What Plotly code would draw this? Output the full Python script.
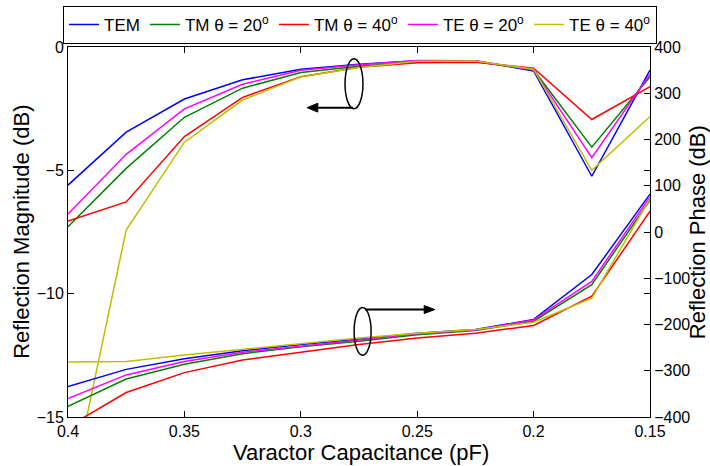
import plotly.graph_objects as go

# varactor capacitance (pF), plotted high -> low
cap = [0.4, 0.375, 0.35, 0.325, 0.3, 0.275, 0.25, 0.225, 0.2, 0.175, 0.15]

# reflection magnitude (dB), left axis
mag_tem = [-5.6, -3.45, -2.11, -1.33, -0.9, -0.70, -0.56, -0.56, -0.97, -5.24, -0.94]
mag_tm20 = [-7.29, -4.92, -2.85, -1.67, -1.03, -0.78, -0.60, -0.60, -0.92, -4.06, -1.21]
mag_tm40 = [-7.06, -6.28, -3.63, -2.04, -1.21, -0.82, -0.64, -0.62, -0.86, -2.94, -1.61]
mag_te20 = [-6.77, -4.35, -2.51, -1.51, -0.94, -0.72, -0.55, -0.56, -0.93, -4.49, -1.1]
mag_te40 = [-18.6, -7.42, -3.86, -2.15, -1.21, -0.83, -0.58, -0.57, -0.90, -5.0, -2.82]

# reflection phase, right axis
ph_tem = [-334, -297, -274, -257, -243, -232, -219, -211, -189, -92, 82]
ph_tm20 = [-377, -318, -286, -263, -248, -236, -222, -213, -193, -114, 69]
ph_tm40 = [-421, -347, -304, -277, -260, -243, -229, -219, -202, -139, 45]
ph_te20 = [-360, -309, -280, -260, -247, -234, -220, -212, -190, -107, 76]
ph_te40 = [-281, -280, -266, -254, -241, -229, -219, -211, -195, -143, 72]

names = ['TEM', 'TM θ = 20<sup>o</sup>', 'TM θ = 40<sup>o</sup>',
         'TE θ = 20<sup>o</sup>', 'TE θ = 40<sup>o</sup>']
colors = ['#0000FF', '#008000', '#FF0000', '#FF00FF', '#BFBF00']
mags = [mag_tem, mag_tm20, mag_tm40, mag_te20, mag_te40]
phases = [ph_tem, ph_tm20, ph_tm40, ph_te20, ph_te40]

fig = go.Figure()
for name, col, m in zip(names, colors, mags):
    fig.add_trace(go.Scatter(x=cap, y=m, name=name, mode='lines',
                             line=dict(color=col, width=1.5)))
for name, col, p in zip(names, colors, phases):
    fig.add_trace(go.Scatter(x=cap, y=p, name=name, mode='lines', yaxis='y2',
                             showlegend=False, line=dict(color=col, width=1.5)))

axis_font = dict(family='Arial, Liberation Sans', size=16, color='black')

fig.update_layout(
    width=710, height=466,
    margin=dict(l=68, r=60, t=47, b=49, autoexpand=False),
    paper_bgcolor='white', plot_bgcolor='white',
    font=dict(family='Arial, Liberation Sans', color='black', size=16),
    showlegend=True,
    # x just below 0 so the horizontal legend may use the left margin too
    legend=dict(orientation='h', x=-0.0086, xanchor='left', y=1.111, yanchor='top',
                bordercolor='black', borderwidth=1, bgcolor='white',
                font=dict(size=17), itemwidth=30, tracegroupgap=0),
    xaxis=dict(range=[0.4, 0.15], tickvals=[0.4, 0.35, 0.3, 0.25, 0.2, 0.15],
               ticktext=['0.4', '0.35', '0.3', '0.25', '0.2', '0.15'],
               ticks='inside', ticklen=6, tickcolor='black', showline=True,
               linecolor='black', linewidth=1, mirror='ticks', showgrid=False,
               zeroline=False, tickfont=axis_font),
    yaxis=dict(range=[-15, 0], tickvals=[-15, -10, -5, 0], ticks='inside', ticklen=6,
               tickcolor='black', showline=True, linecolor='black', linewidth=1,
               mirror='ticks', showgrid=False, zeroline=False, tickfont=axis_font),
    yaxis2=dict(range=[-400, 400], tickvals=[-400, -300, -200, -100, 0, 100, 200, 300, 400],
                overlaying='y', side='right', ticks='inside', ticklen=6, tickcolor='black',
                showline=True, linecolor='black', linewidth=1, showgrid=False,
                zeroline=False, tickfont=axis_font),
)

# axis titles as annotations so they sit where the original has them
title_font = dict(family='Arial, Liberation Sans', size=22, color='black')
fig.add_annotation(text='Varactor Capacitance (pF)', xref='paper', yref='paper',
                   x=0.503, y=-0.095, xanchor='center', yanchor='middle',
                   showarrow=False, font=title_font)
fig.add_annotation(text='Reflection Magnitude (dB)', xref='paper', yref='paper',
                   x=-0.081, y=0.5, xanchor='center', yanchor='middle', textangle=-90,
                   showarrow=False, font=title_font)
fig.add_annotation(text='Reflection Phase (dB)', xref='paper', yref='paper',
                   x=1.081, y=0.5, xanchor='center', yanchor='middle', textangle=-90,
                   showarrow=False, font=title_font)

pen = dict(color='black', width=1.5)

# ellipse + arrow marking the magnitude curves (left axis)
fig.add_shape(type='circle', xref='x', yref='y', x0=0.281, x1=0.2733, y0=-2.5, y1=-0.48, line=pen)
fig.add_shape(type='line', xref='x', yref='y', x0=0.2776, x1=0.2935, y0=-2.46, y1=-2.46,
              line=dict(color='black', width=2))
fig.add_shape(type='path', xref='x', yref='y',
              path='M 0.2973,-2.46 L 0.2927,-2.28 L 0.2927,-2.64 Z',
              fillcolor='black', line=dict(color='black', width=1))

# ellipse + arrow marking the phase curves (right axis)
fig.add_shape(type='circle', xref='x', yref='y2', x0=0.2771, x1=0.2698, y0=-266.7, y1=-163.4, line=pen)
fig.add_shape(type='line', xref='x', yref='y2', x0=0.2724, x1=0.2462, y0=-167.7, y1=-167.7,
              line=dict(color='black', width=2))
fig.add_shape(type='path', xref='x', yref='y2',
              path='M 0.2424,-167.7 L 0.2470,-159.1 L 0.2470,-176.3 Z',
              fillcolor='black', line=dict(color='black', width=1))

# drop the browser's default 8px body margin so the figure fills the window
fig.write_html("out.html", config={'displayModeBar': False},
               post_script="document.body.style.margin='0';")
